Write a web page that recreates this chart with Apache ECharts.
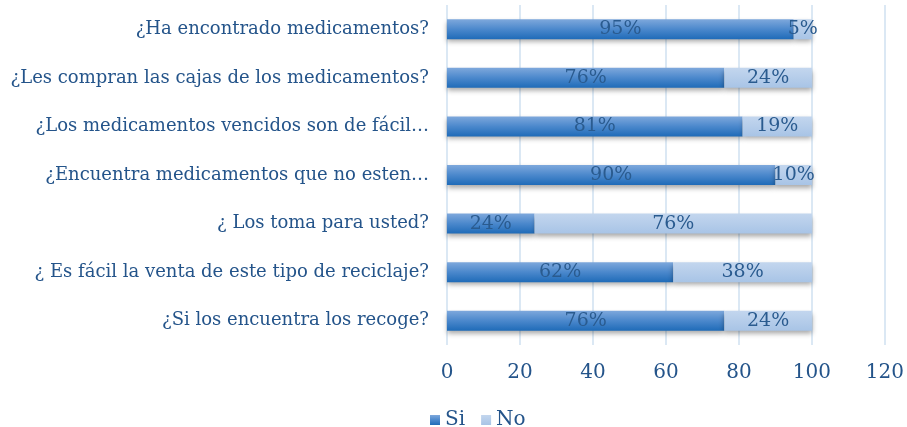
<!DOCTYPE html>
<html>
<head>
<meta charset="utf-8">
<script src="https://cdn.jsdelivr.net/npm/echarts@6/dist/echarts.min.js"></script>
<style>
  html, body { margin: 0; padding: 0; background: #fff; }
  #chart { width: 907px; height: 427px; }
</style>
</head>
<body>
<div id="chart"></div>
<script>
(function () {
    var myChart = echarts.init(document.getElementById('chart'));

    // preguntas, de arriba hacia abajo
    var categories = [
        '¿Ha encontrado medicamentos?',
        '¿Les compran las cajas de los medicamentos?',
        '¿Los medicamentos vencidos son de fácil…',
        '¿Encuentra medicamentos que no esten…',
        '¿ Los toma para usted?',
        '¿ Es fácil la venta de este tipo de reciclaje?',
        '¿Si los encuentra los recoge?'
    ];
    var siValues = [95, 76, 81, 90, 24, 62, 76];
    var noValues = [5, 24, 19, 10, 76, 38, 24];
    var xTicks = [0, 20, 40, 60, 80, 100, 120];

    var textColor = '#24548a';
    var font = 'DejaVu Serif';

    var labelStyle = {
        show: true,
        position: 'inside',
        formatter: '{c}%',
        color: '#2a5b8f',
        fontFamily: font,
        fontSize: 19
    };

    option = {
        backgroundColor: '#fff',
        animation: false,
        textStyle: { fontFamily: font },
        grid: {
            left: 447,
            right: 18,
            top: 5,
            height: 340
        },
        legend: {
            data: ['Si', 'No'],
            top: 405,
            left: 425,
            icon: 'rect',
            itemWidth: 10,
            itemHeight: 10,
            itemGap: 16,
            textStyle: { color: textColor, fontFamily: font, fontSize: 20 }
        },
        xAxis: {
            type: 'value',
            min: xTicks[0],
            max: xTicks[xTicks.length - 1],
            interval: 20,
            axisLine: { show: false },
            axisTick: { show: false },
            splitLine: { lineStyle: { color: '#cfe0f1', width: 1.5 } },
            axisLabel: { color: textColor, fontFamily: font, fontSize: 20, margin: 18 }
        },
        yAxis: {
            type: 'category',
            inverse: true,
            data: categories,
            axisLine: { show: false },
            axisTick: { show: false },
            axisLabel: { color: textColor, fontFamily: font, fontSize: 18, margin: 18 }
        },
        series: [{
            name: 'Si',
            type: 'bar',
            stack: 'total',
            barWidth: 20,
            data: siValues,
            label: labelStyle,
            itemStyle: {
                color: new echarts.graphic.LinearGradient(0, 0, 0, 1, [
                    { offset: 0, color: '#7ea8dc' },
                    { offset: 0.5, color: '#4b88cc' },
                    { offset: 1, color: '#1f6bb8' }
                ]),
                shadowColor: 'rgba(0,0,0,0.35)',
                shadowBlur: 5,
                shadowOffsetY: 3
            }
        }, {
            name: 'No',
            type: 'bar',
            stack: 'total',
            barWidth: 20,
            data: noValues,
            label: labelStyle,
            itemStyle: {
                color: new echarts.graphic.LinearGradient(0, 0, 0, 1, [
                    { offset: 0, color: '#c3d6ee' },
                    { offset: 1, color: '#a8c4e6' }
                ]),
                shadowColor: 'rgba(0,0,0,0.35)',
                shadowBlur: 5,
                shadowOffsetY: 3
            }
        }]
    };
    myChart.setOption(option);
})();
</script>
</body>
</html>
